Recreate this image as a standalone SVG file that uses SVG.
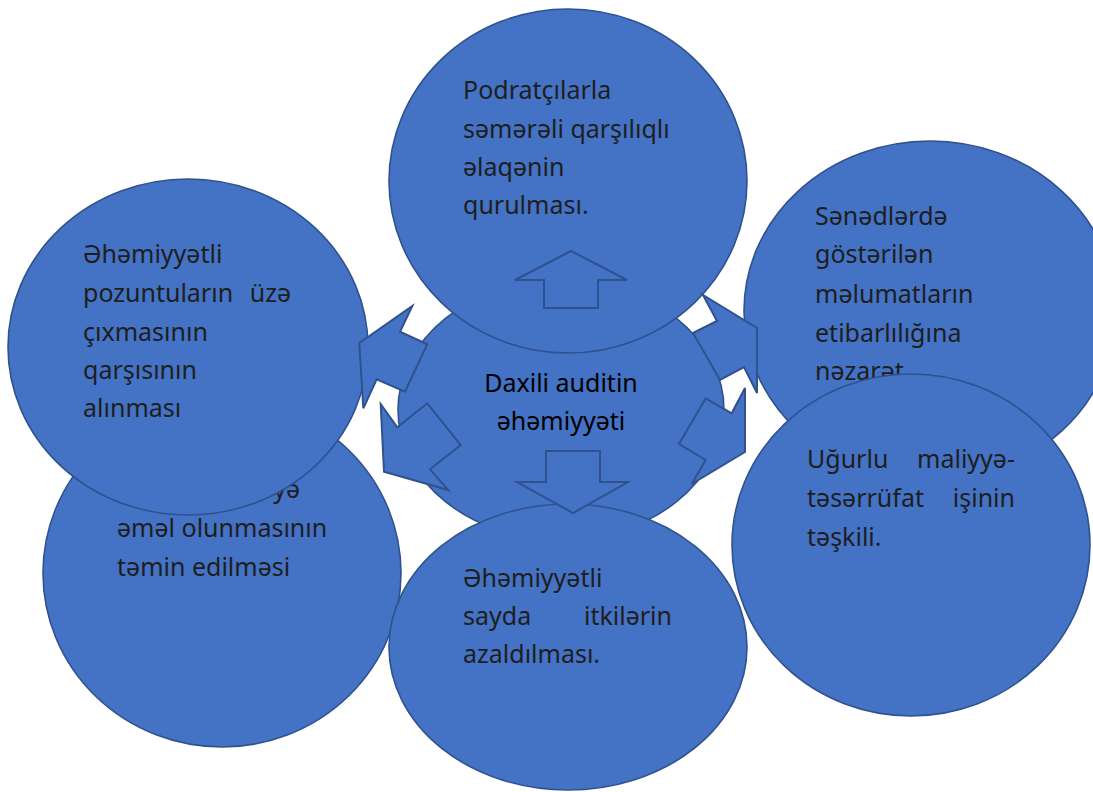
<svg xmlns="http://www.w3.org/2000/svg" width="1093" height="792" viewBox="0 0 1093 792">
<style>
.c{fill:#4472C4;stroke:#2F528F;stroke-width:1.6}
.a{fill:#4472C4;stroke:#2F528F;stroke-width:2;stroke-linejoin:miter}
.t{font-family:"Noto Sans","Open Sans","DejaVu Sans",sans-serif;font-size:25px;fill:#1e1e1e}
.m{font-family:"Noto Sans","Open Sans","DejaVu Sans",sans-serif;font-size:25px;fill:#000;text-anchor:middle}
.e{text-anchor:end}
</style>
<rect width="1093" height="792" fill="#fff"/>
<g id="center">
<ellipse class="c" cx="561" cy="410" rx="163" ry="130"/>
<text class="m" x="561" y="392">Daxili auditin</text>
<text class="m" x="561" y="430">əhəmiyyəti</text>
</g>
<g id="top">
<ellipse class="c" cx="568" cy="181" rx="179" ry="172"/>
<text class="t" x="463" y="99">Podratçılarla</text>
<text class="t" x="463" y="138">səmərəli qarşılıqlı</text>
<text class="t" x="463" y="176">əlaqənin</text>
<text class="t" x="463" y="214">qurulması.</text>
</g>
<g id="bottom-left">
<ellipse class="c" cx="222" cy="573" rx="179" ry="174"/>
<text class="t e" x="300" y="498">yə</text>
<text class="t" x="117" y="537">əməl olunmasının</text>
<text class="t" x="117" y="576">təmin edilməsi</text>
</g>
<g id="top-left">
<ellipse class="c" cx="188" cy="347" rx="180" ry="168"/>
<text class="t" x="83" y="263">Əhəmiyyətli</text>
<text class="t" x="83" y="302">pozuntuların</text>
<text class="t e" x="291" y="302">üzə</text>
<text class="t" x="83" y="341">çıxmasının</text>
<text class="t" x="83" y="379">qarşısının</text>
<text class="t" x="83" y="417">alınması</text>
</g>
<g id="top-right">
<ellipse class="c" cx="930" cy="311" rx="186" ry="170"/>
<text class="t" x="815" y="225">Sənədlərdə</text>
<text class="t" x="815" y="263">göstərilən</text>
<text class="t" x="815" y="303">məlumatların</text>
<text class="t" x="815" y="342">etibarlılığına</text>
<text class="t" x="815" y="380">nəzarət</text>
</g>
<g id="bottom-right">
<ellipse class="c" cx="911" cy="545" rx="179" ry="171"/>
<text class="t" x="807" y="468">Uğurlu</text>
<text class="t e" x="1015" y="468">maliyyə-</text>
<text class="t" x="807" y="507">təsərrüfat</text>
<text class="t e" x="1015" y="507">işinin</text>
<text class="t" x="807" y="546">təşkili.</text>
</g>
<g id="bottom">
<ellipse class="c" cx="568" cy="647" rx="179" ry="143"/>
<text class="t" x="463" y="587">Əhəmiyyətli</text>
<text class="t" x="463" y="625">sayda</text>
<text class="t e" x="672" y="625">itkilərin</text>
<text class="t" x="463" y="663">azaldılması.</text>
</g>
<g id="connectors">
<polygon class="a" points="571,251 627,280 598,280 598,308 544,308 544,280 515,280"/>
<polygon class="a" points="546,451 600,451 600,482 628,482 573,513 517,482 546,482"/>
<polygon class="a" points="359.3,343 412.3,306 400,331.7 427.3,344.3 405,391.7 376.7,379.3 363.3,408.3"/>
<polygon class="a" points="384,471.7 380.7,404 397.3,427.3 427.3,403.3 460.7,445 430,469.3 448.3,490"/>
<polygon class="a" points="757,328 757,393 744,367 720,380 693,333 717,321 703,295"/>
<polygon class="a" points="745,452 691.7,484 705.7,460 679,444 705.7,398.3 731.7,413.3 745,388"/>
</g>
</svg>
